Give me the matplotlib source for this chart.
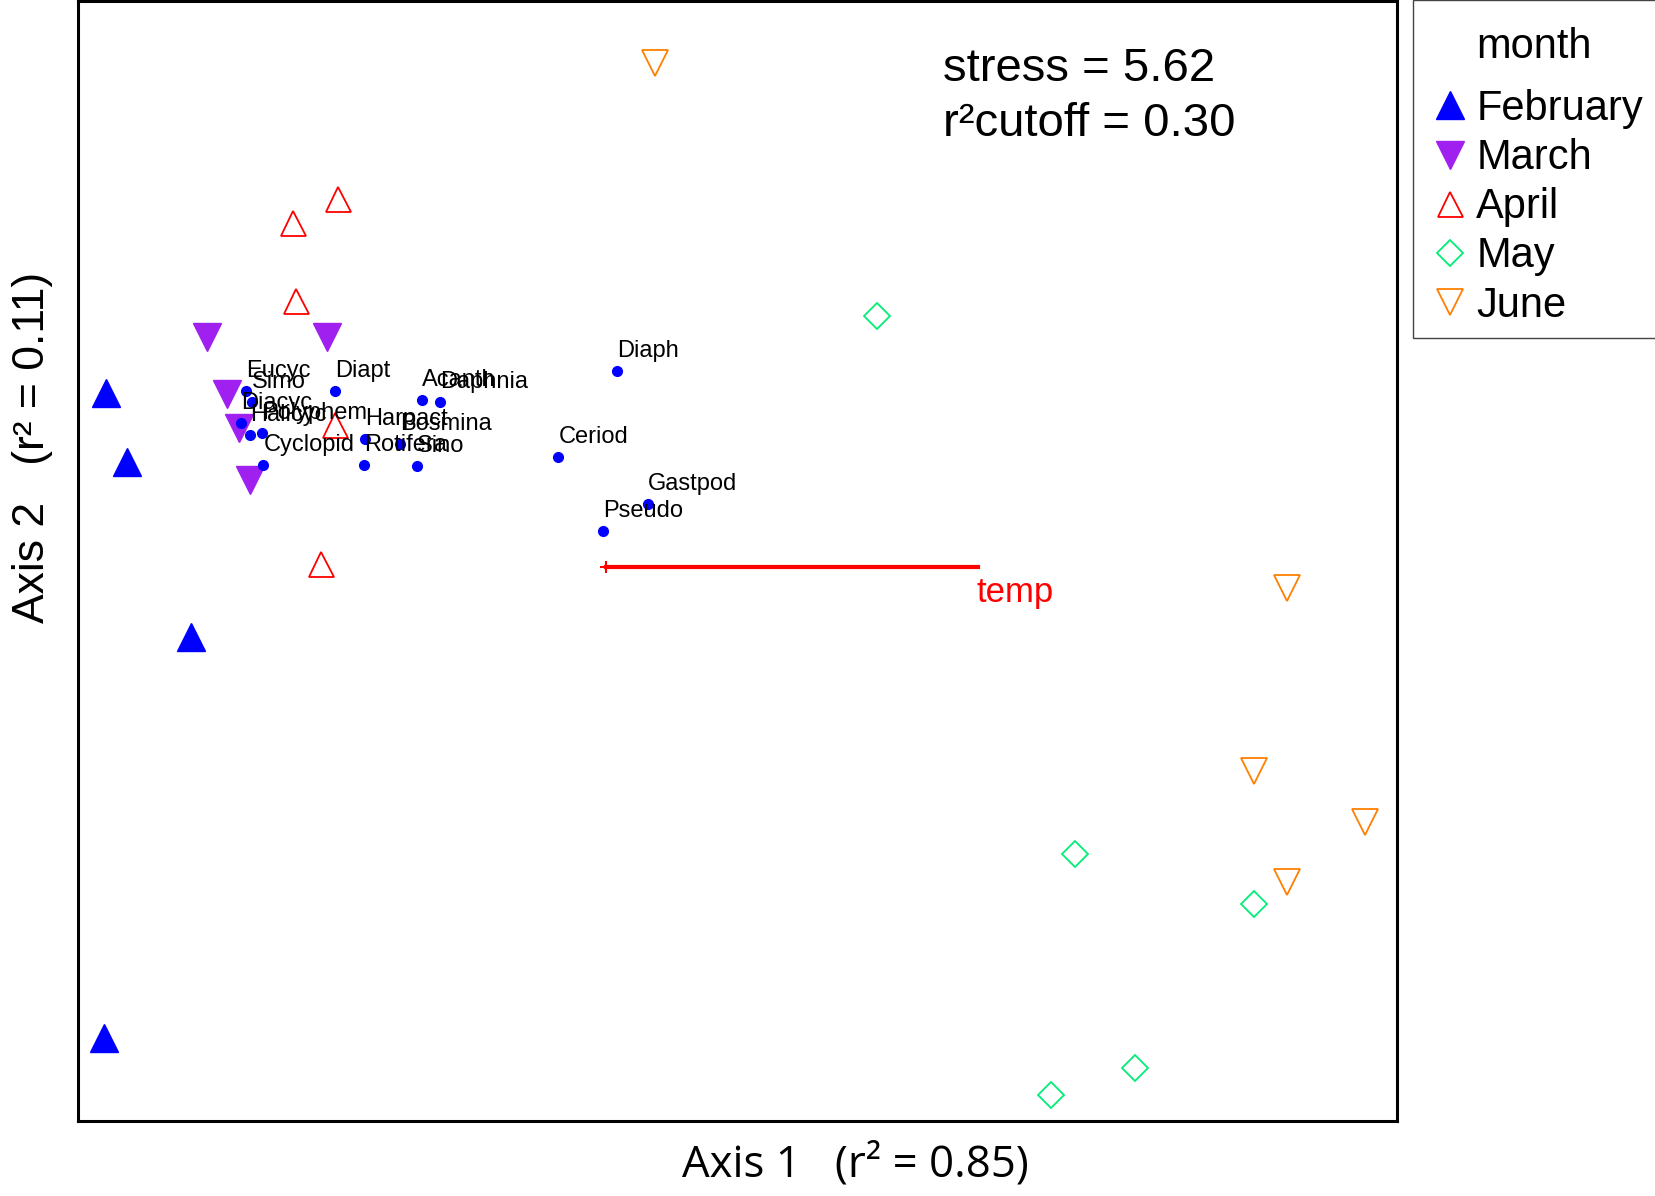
import numpy as np
import matplotlib.pyplot as plt
from matplotlib.lines import Line2D

plt.rcParams['font.family'] = ['Liberation Sans', 'DejaVu Sans']

# site scores (NMDS axis 1 / axis 2), by month
feb_x = [-0.834, -0.799, -0.692, -0.836]
feb_y = [0.290, 0.174, -0.118, -0.785]
mar_x = [-0.665, -0.465, -0.632, -0.611, -0.593]
mar_y = [0.382, 0.382, 0.287, 0.231, 0.144]
apr_x = [-0.447, -0.521, -0.517, -0.451, -0.475]
apr_y = [0.612, 0.572, 0.442, 0.236, 0.004]
may_x = [0.451, 0.781, 1.079, 0.882, 0.741]
may_y = [0.417, -0.479, -0.563, -0.836, -0.880]
jun_x = [0.081, 1.135, 1.079, 1.265, 1.135]
jun_y = [0.840, -0.035, -0.340, -0.426, -0.526]

# species scores
species = ['Eucyc', 'Simo', 'Diacyc', 'Halicyc', 'Polyphem', 'Cyclopid', 'Diapt',
           'Harpact', 'Rotifera', 'Acanth', 'Daphnia', 'Bosmina', 'Sino',
           'Diaph', 'Ceriod', 'Gastpod', 'Pseudo']
sp_x = [-0.600, -0.590, -0.608, -0.593, -0.574, -0.571, -0.452,
        -0.401, -0.403, -0.306, -0.277, -0.343, -0.3145,
        0.018, -0.0795, 0.0695, -0.0045]
sp_y = [0.293, 0.275, 0.239, 0.219, 0.223, 0.170, 0.293,
        0.212, 0.170, 0.2775, 0.275, 0.204, 0.1675,
        0.326, 0.182, 0.104, 0.059]

# environmental vector
temp_x = 0.62
temp_y = 0.0

stress = 5.62
r2_cutoff = 0.30
r2_axis1 = 0.85
r2_axis2 = 0.11

fig = plt.figure(figsize=(16.56, 11.96), dpi=100)
ax = fig.add_axes([78/1656, 1 - 1121/1196, 1319/1656, 1120/1196])

styles = {
    'February': dict(marker='^', ms=20, mfc='#0000FF', mec='#0000FF', mew=1),
    'March': dict(marker='v', ms=20, mfc='#A020F0', mec='#A020F0', mew=1),
    'April': dict(marker='^', ms=18, mfc='none', mec='#FF0000', mew=1.3),
    'May': dict(marker='D', ms=13.5, mfc='none', mec='#00EE76', mew=1.3),
    'June': dict(marker='v', ms=18.5, mfc='none', mec='#FF7F00', mew=1.3),
}
sites = {'February': (feb_x, feb_y), 'March': (mar_x, mar_y), 'April': (apr_x, apr_y),
         'May': (may_x, may_y), 'June': (jun_x, jun_y)}

for m, (xs, ys) in sites.items():
    ax.plot(xs, ys, ls='none', **styles[m])

ax.plot(sp_x, sp_y, ls='none', marker='o', ms=7, color='#0000FF')
for name, x, y in zip(species, sp_x, sp_y):
    ax.annotate(name, (x, y), xytext=(0, 10), textcoords='offset points',
                ha='left', va='baseline', fontsize=17, color='black')

ax.plot([0, temp_x], [0, temp_y], color='#FF0000', lw=3)
ax.plot([0], [0], marker='+', ms=9, mew=1.5, color='#FF0000')
ax.annotate('temp', (temp_x, temp_y), xytext=(-1, -7), textcoords='offset points',
            ha='left', va='top', fontsize=25, color='#FF0000')

ax.set_xlim(-0.88, 1.318)
ax.set_ylim(-0.924, 0.9425)
ax.set_xticks([])
ax.set_yticks([])
for s in ax.spines.values():
    s.set_linewidth(2.2)
    s.set_color('black')

fig.text(943/1656, 1 - 81/1196, 'stress = %.2f' % stress, fontsize=34, va='baseline')
fig.text(943/1656, 1 - 136/1196, 'r\u00b2cutoff = %.2f' % r2_cutoff, fontsize=34, va='baseline')

fig.text(855/1656, 1 - 1165/1196, 'Axis 1   (r\u00b2 = %.2f)' % r2_axis1,
         fontsize=31.5, ha='center', va='center', family=['Open Sans', 'DejaVu Sans'])
fig.text(33/1656, 1 - 447/1196, 'Axis 2   (r\u00b2 = %.2f)' % r2_axis2,
         fontsize=32, ha='center', va='center', rotation=90)

handles = [Line2D([], [], ls='none', label=m, **styles[m]) for m in sites]
leg = fig.legend(handles=handles, loc='upper left', bbox_to_anchor=(1413/1656, 1.0),
                 fontsize=30, title='\nmonth', title_fontsize=30, frameon=True,
                 fancybox=False, edgecolor='#444444', framealpha=1,
                 handlelength=1.17, handletextpad=0.05, labelspacing=0.22,
                 borderpad=0.30, borderaxespad=0)
leg.get_frame().set_linewidth(1)
leg.get_title().set_linespacing(0.17)
leg._legend_box.sep = 16

fig.savefig('out.png', dpi=100)
